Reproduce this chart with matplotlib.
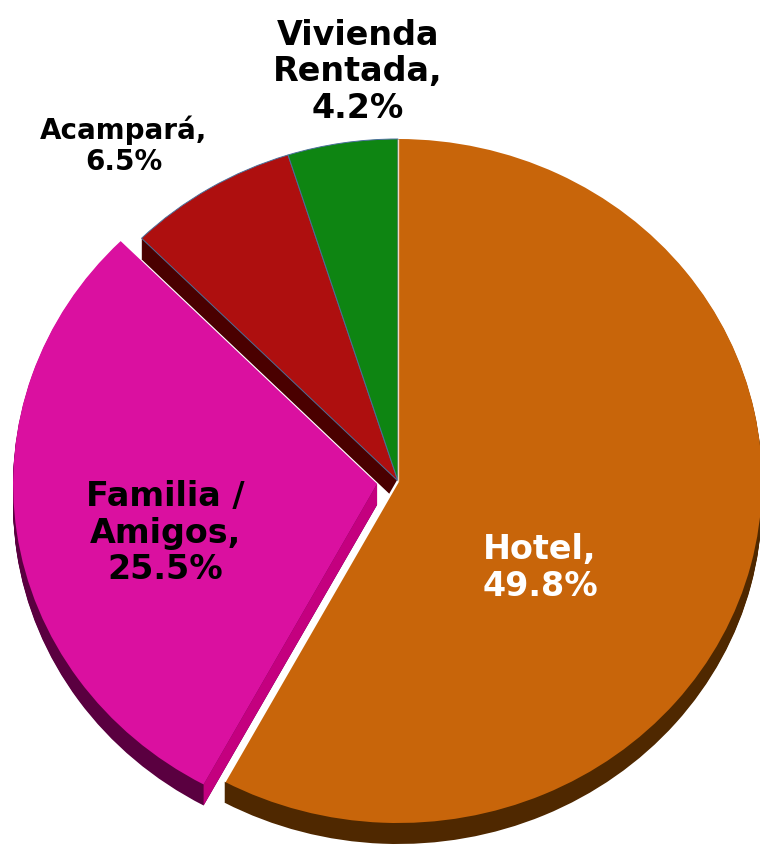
import numpy as np
import matplotlib
matplotlib.use("Agg")
import matplotlib.pyplot as plt

# datos
categorias = ["Hotel", "Familia /\nAmigos", "Acampará", "Vivienda\nRentada"]
porcentajes = [49.8, 25.5, 6.5, 4.2]
etiquetas = ["Hotel,\n49.8%", "Familia /\nAmigos,\n25.5%", "Acampará,\n6.5%", "Vivienda\nRentada,\n4.2%"]

colores = ["#C8650A", "#DA10A0", "#AE0F0F", "#0E8512"]
colores_lado = ["#4F2800", "#5A0040", "#4A0000", "#063D08"]
explode = [0, 0.058, 0, 0]

W, H = 760, 851
RX, RY = 364, 342          # semiejes de la elipse en pixeles
CX, CY = 398, 481          # centro (pixeles desde arriba)
DEPTH = 21                 # grosor 3D en pixeles

def px(x, y):
    # pixel -> coordenadas de datos
    return (x - CX) / RX, (CY - y) / RY

fig = plt.figure(figsize=(W / 100, H / 100), dpi=100)
ax = fig.add_axes([0, 0, 1, 1])

# lados (extrusion hacia abajo)
for k in range(DEPTH, 0, -1):
    wl, _ = ax.pie(porcentajes, colors=colores_lado, explode=explode, startangle=90,
                   counterclock=False, center=(0, -k / RY), radius=1,
                   wedgeprops=dict(linewidth=0))
    for i, w in enumerate(wl):
        w.set_zorder(2 if i == 1 else 1)

# caras superiores
wedges, _ = ax.pie(porcentajes, colors=colores, explode=explode, startangle=90,
                   counterclock=False, radius=1, wedgeprops=dict(linewidth=0))
for w in wedges:
    w.set_zorder(4)
for w in wedges[2:]:
    w.set_edgecolor("#4A6F9A")
    w.set_linewidth(0.7)

# lineas claras en los bordes rectos de Hotel
hw = wedges[0]
for th, col, lw in [(hw.theta1, "white", 1.8), (hw.theta2, "#F2D9C0", 1.0)]:
    a = np.deg2rad(th)
    ax.plot([0, hw.r * np.cos(a)], [0, hw.r * np.sin(a)], color=col, lw=lw,
            solid_capstyle="butt", zorder=5)

# cara de corte de Familia (mirando hacia Hotel)
fw = wedges[1]
cx, cy = fw.center
ang = np.deg2rad(fw.theta2)
ex, ey = cx + fw.r * np.cos(ang), cy + fw.r * np.sin(ang)
d = DEPTH / RY
ax.fill([cx, ex, ex, cx], [cy, ey, ey - d, cy - d], color="#C4007F", lw=0, zorder=3)

# etiquetas
fs = 24
x, y = px(540, 568)
ax.text(x, y, etiquetas[0], color="white", fontsize=fs, fontweight="bold",
        ha="center", va="center", linespacing=1.15, zorder=6)
x, y = px(165, 533)
ax.text(x, y, etiquetas[1], color="black", fontsize=fs, fontweight="bold",
        ha="center", va="center", linespacing=1.15, zorder=6)
x, y = px(124, 146)
ax.text(x, y, etiquetas[2], color="black", fontsize=20, fontweight="bold",
        ha="center", va="center", linespacing=1.15, zorder=6)
x, y = px(358, 72)
ax.text(x, y, etiquetas[3], color="black", fontsize=fs, fontweight="bold",
        ha="center", va="center", linespacing=1.15, zorder=6)

ax.set_aspect("auto")
ax.set_xlim(-CX / RX, (W - CX) / RX)
ax.set_ylim(-(H - CY) / RY, CY / RY)
ax.axis("off")

fig.savefig("out.png", dpi=100)
